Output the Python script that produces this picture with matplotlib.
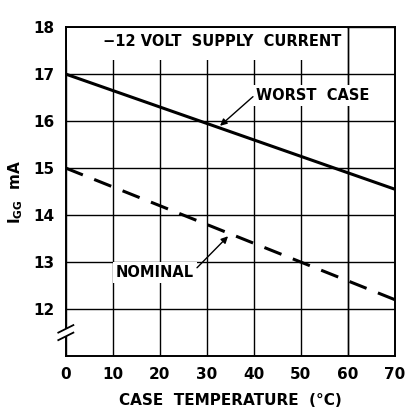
import matplotlib
matplotlib.use('Agg')
import matplotlib.pyplot as plt
from matplotlib.patches import Rectangle

# case temperature (°C) and supply current (mA)
temp = [0, 10, 20, 30, 40, 50, 60, 70]
worst_case = [17.0, 16.65, 16.3, 15.95, 15.6, 15.25, 14.9, 14.55]
nominal = [15.0, 14.6, 14.2, 13.8, 13.4, 13.0, 12.6, 12.2]

xticks = [0, 10, 20, 30, 40, 50, 60, 70]
yticks = [12, 13, 14, 15, 16, 17, 18]

plt.rcParams['font.family'] = 'DejaVu Sans'
plt.rcParams['font.weight'] = 'bold'

fig = plt.figure(figsize=(4.14, 4.17), dpi=100)
ax = fig.add_axes([0.159, 0.146, 0.795, 0.789])

ax.set_xlim(0, 70)
ax.set_ylim(11, 18)
ax.set_xticks(xticks)
ax.set_yticks(yticks)
ax.set_xticklabels([str(t) for t in xticks], fontsize=11, fontweight='bold')
ax.set_yticklabels([str(t) for t in yticks], fontsize=11, fontweight='bold')
ax.tick_params(length=0, pad=8)
ax.set_axisbelow(True)
ax.grid(True, color='black', linewidth=1.0, zorder=0.5)
for s in ax.spines.values():
    s.set_linewidth(1.4)

# white panel behind the title, x=60 line stays visible
ax.add_patch(Rectangle((0.3, 17.3), 59.4, 0.68, facecolor='white',
                       edgecolor='none', zorder=1))
ax.axvline(60, color='black', linewidth=1.0, zorder=1.2)

ax.plot(temp, worst_case, color='black', linewidth=2.2, zorder=3)
ax.plot(temp, nominal, color='black', linewidth=2.2, dashes=(6, 4), zorder=3)

box = dict(facecolor='white', edgecolor='none', pad=2)
arrow = dict(arrowstyle='-|>', color='black', lw=1.0,
             shrinkA=0, shrinkB=0, mutation_scale=10)
ax.text(33.3, 17.7, '\u221212 VOLT  SUPPLY  CURRENT', ha='center', va='center',
        fontsize=10.5, fontweight='bold', zorder=4)

ax.text(40.5, 16.55, 'WORST  CASE', ha='left', va='center', fontsize=10.5,
        fontweight='bold', bbox=box, zorder=4)
ax.annotate('', xy=(32.8, 15.9), xytext=(39.8, 16.52), arrowprops=arrow,
            zorder=4)

ax.text(27.3, 12.78, 'NOMINAL', ha='right', va='center', fontsize=10.5,
        fontweight='bold', bbox=box, zorder=4)
ax.annotate('', xy=(34.5, 13.55), xytext=(27.9, 12.88), arrowprops=arrow,
            zorder=4)

# axis break mark on the left spine
ax.add_patch(Rectangle((-0.5, 11.42), 1.0, 0.16, facecolor='white',
                       edgecolor='none', zorder=5, clip_on=False))
for dy in (-0.08, 0.08):
    ax.plot([-1.6, 1.6], [11.42 + dy, 11.58 + dy], color='black',
            linewidth=1.3, clip_on=False, zorder=6)

ax.set_xlabel('CASE  TEMPERATURE  (\u00b0C)', fontsize=11, fontweight='bold',
              labelpad=8)
ax.set_ylabel(r'I$_{\mathbf{GG}}$  mA', fontsize=11, fontweight='bold',
              labelpad=6)

plt.savefig('out.png', dpi=100)
